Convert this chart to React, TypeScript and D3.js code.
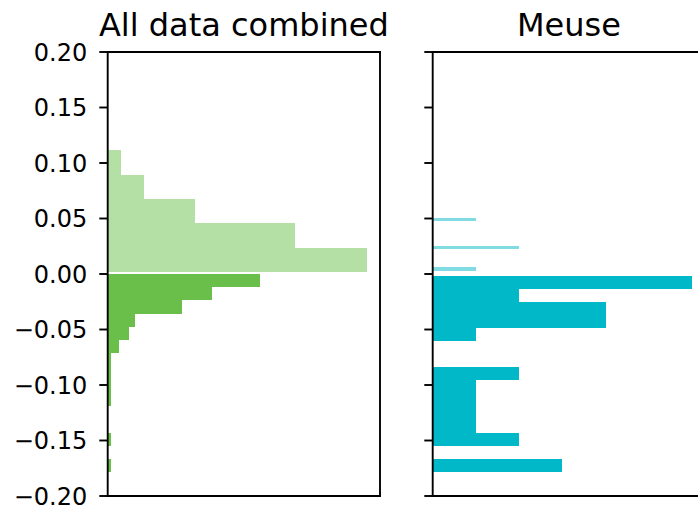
import React from 'react';
import * as d3 from 'd3';

// ---- data ----
const yTicks = [-0.2, -0.15, -0.1, -0.05, 0, 0.05, 0.1, 0.15, 0.2];
const panelTitles = ['All data combined', 'Meuse'];

// All data combined: positive-change bins (light) and negative-change bins (dark)
const allAboveEdges = [0.0016, 0.0236, 0.0456, 0.0676, 0.0896, 0.1115];
const allAboveCounts = [86, 62.1, 28.8, 11.9, 4.3];
const allBelowEdges = [0, -0.0119, -0.0238, -0.0357, -0.0476, -0.0595, -0.0714, -0.0833, -0.0952, -0.1071, -0.119, -0.1309, -0.1428, -0.1547, -0.1666, -0.1785];
const allBelowCounts = [50.6, 34.5, 24.8, 8.9, 6.9, 3.7, 1.2, 1.1, 1.1, 1.1, 0, 0, 1.2, 0, 1.1];

// Meuse
const meuseAboveEdges = [0.00315, 0.00631, 0.00947, 0.01263, 0.01579, 0.01895, 0.02211, 0.02527, 0.02843, 0.03159, 0.03475, 0.03791, 0.04107, 0.04423, 0.04739, 0.05055];
const meuseAboveCounts = [1, 0, 0, 0, 0, 0, 2, 0, 0, 0, 0, 0, 0, 0, 1];
const meuseBelowEdges = [-0.0018, -0.01355, -0.0253, -0.03705, -0.0488, -0.06055, -0.0723, -0.08405, -0.0958, -0.10755, -0.1193, -0.13105, -0.1428, -0.15455, -0.1663, -0.17805];
const meuseBelowCounts = [6, 2, 4, 4, 1, 0, 0, 2, 1, 1, 1, 1, 2, 0, 3];

const greenDark = '#6abf4b';
const greenLight = '#b4dfa5';
const cyanDark = '#00b8c8';
const cyanLight = '#80dbe3';

const FONT = 'DejaVu Sans, sans-serif';

type Hist = { edges: number[]; counts: number[]; color: string };

const panels: { x0: number; x1: number; hists: Hist[]; labels: boolean; rightSpine: boolean }[] = [
  {
    x0: 107.7, x1: 380, labels: true, rightSpine: true,
    hists: [
      { edges: allAboveEdges, counts: allAboveCounts, color: greenLight },
      { edges: allBelowEdges, counts: allBelowCounts, color: greenDark },
    ],
  },
  {
    x0: 432.7, x1: 705, labels: false, rightSpine: true,
    hists: [
      { edges: meuseAboveEdges, counts: meuseAboveCounts, color: cyanLight },
      { edges: meuseBelowEdges, counts: meuseBelowCounts, color: cyanDark },
    ],
  },
];

const Y_TOP = 52;
const Y_BOT = 496;

export default function App() {
  const y = d3.scaleLinear().domain([-0.2, 0.2]).range([Y_BOT, Y_TOP]);
  return (
    <svg width={698} height={511} style={{ position: 'absolute', left: 0, top: 0, background: '#fff' }}>
      {panels.map((p, pi) => {
        const maxC = d3.max(p.hists.flatMap(h => h.counts)) as number;
        const x = d3.scaleLinear().domain([0, maxC * 1.05]).range([p.x0, p.x1]);
        return (
          <g key={pi}>
            {p.hists.map((h, hi) =>
              h.counts.map((c, i) => {
                if (c <= 0) return null;
                const ya = y(h.edges[i]);
                const yb = y(h.edges[i + 1]);
                return (
                  <rect
                    key={`${hi}-${i}`}
                    x={x(0)}
                    y={Math.min(ya, yb)}
                    width={x(c) - x(0)}
                    height={Math.abs(yb - ya)}
                    fill={h.color}
                    shapeRendering="crispEdges"
                  />
                );
              })
            )}
            {/* spines */}
            <line x1={p.x0} x2={p.x1} y1={Y_TOP} y2={Y_TOP} stroke="#000" strokeWidth={1.9} strokeLinecap="square" />
            <line x1={p.x0} x2={p.x1} y1={Y_BOT} y2={Y_BOT} stroke="#000" strokeWidth={1.9} strokeLinecap="square" />
            <line x1={p.x0} x2={p.x0} y1={Y_TOP} y2={Y_BOT} stroke="#000" strokeWidth={1.9} strokeLinecap="square" />
            {p.rightSpine && (
              <line x1={p.x1} x2={p.x1} y1={Y_TOP} y2={Y_BOT} stroke="#000" strokeWidth={1.9} strokeLinecap="square" />
            )}
            {yTicks.map(t => (
              <g key={t}>
                <line x1={p.x0 - 8.4} x2={p.x0} y1={y(t)} y2={y(t)} stroke="#000" strokeWidth={1.9} />
                {p.labels && (
                  <text
                    x={p.x0 - 20.5}
                    y={y(t)}
                    dy="0.36em"
                    textAnchor="end"
                    fontFamily={FONT}
                    fontSize={24}
                    fill="#000"
                  >
                    {d3.format('.2f')(t).replace('-', '\u2212')}
                  </text>
                )}
              </g>
            ))}
            <text
              x={(p.x0 + p.x1) / 2}
              y={36}
              textAnchor="middle"
              fontFamily={FONT}
              fontSize={32}
              fill="#000"
            >
              {panelTitles[pi]}
            </text>
          </g>
        );
      })}
    </svg>
  );
}
